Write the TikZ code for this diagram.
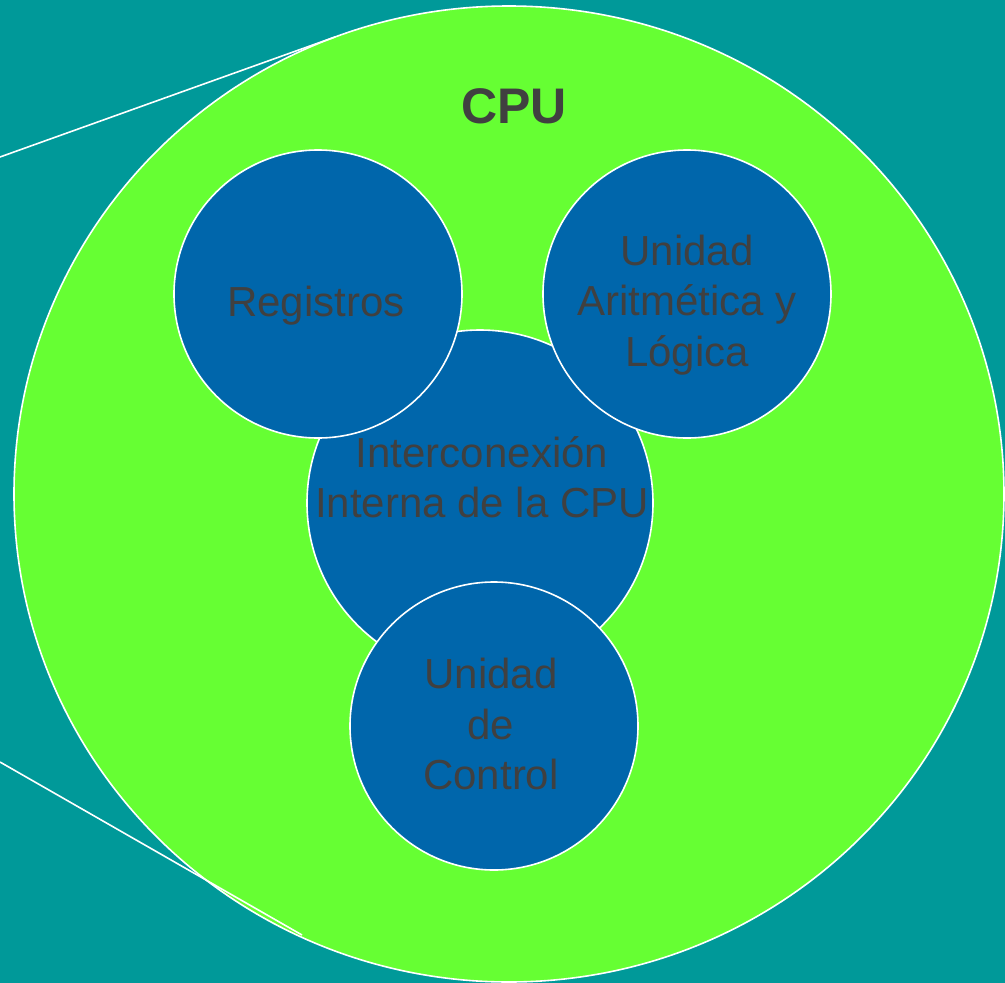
\documentclass[tikz,border=0pt]{standalone}
\usepackage{fontspec}
\setmainfont{Liberation Sans}
\usetikzlibrary{shapes.geometric}
\definecolor{bgteal}{HTML}{009999}
\definecolor{cpugreen}{HTML}{66FF33}
\definecolor{unitblue}{HTML}{0066AB}
\definecolor{txtgray}{HTML}{404040}
\tikzset{
  unit/.style={circle, draw=white, line width=1.6pt, fill=unitblue, inner sep=0pt},
  label text/.style={text=txtgray, align=center, font=\fontsize{42}{50.5}\selectfont, inner sep=0pt},
  guide/.style={draw=white, line width=1.6pt}
}
\begin{document}
\begin{tikzpicture}[x=1pt,y=-1pt]
  % background
  \fill[bgteal] (0,0) rectangle (1005,983);
  \useasboundingbox (0,0) rectangle (1005,983);
  % CPU body
  \node[ellipse, draw=white, line width=1.6pt, fill=cpugreen, inner sep=0pt,
        minimum width=990pt, minimum height=976pt] (cpu) at (509,494) {};
  % zoom guide lines
  \coordinate (g1a) at (0,157);
  \coordinate (g1b) at (335,37);
  \coordinate (g2a) at (0,762);
  \coordinate (g2b) at (302,935);
  \draw[guide] (g1a) -- (g1b);
  \draw[guide] (g2a) -- (g2b);
  \node[text=txtgray, font=\fontsize{50}{60}\selectfont\bfseries, inner sep=0pt] (title) at (514,106) {CPU};
  % units
  \node[unit, minimum size=346pt] (bus) at (480,503) {};
  \node[unit, minimum size=288pt] (reg) at (318,294) {};
  \node[unit, minimum size=288pt] (alu) at (687,294) {};
  \node[unit, minimum size=288pt] (ctl) at (494,726) {};
  % unit labels
  \node[label text] (busl) at (482,477) {Interconexión\\Interna de la CPU};
  \node[label text] (regl) at (316,306) {Registros};
  \node[label text] (alul) at (687,305) {Unidad\\Aritmética y\\Lógica};
  \node[label text] (ctll) at (491,724) {Unidad\\de\\Control};
\end{tikzpicture}
\end{document}
